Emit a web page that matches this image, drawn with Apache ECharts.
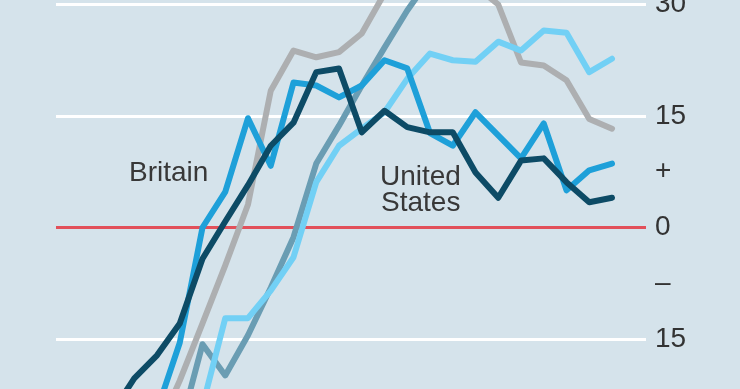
<!DOCTYPE html>
<html>
<head>
<meta charset="utf-8">
<script src="https://cdn.jsdelivr.net/npm/echarts@6/dist/echarts.min.js"></script>
<style>
html,body{margin:0;padding:0;background:#d5e3eb;}
#c{width:740px;height:389px;}
</style>
</head>
<body>
<div id="c"></div>
<script>
// categories (periods), left to right
var categories = ['0','1','2','3','4','5','6','7','8','9','10','11','12','13','14','15','16','17','18','19','20','21','22'];
// series values (% change); values beyond the crop are estimates
var navy   = [-25.0,-20.3,-17.2,-12.9,-4.2,0.8,5.7,11.0,14.1,20.9,21.4,12.8,15.7,13.5,12.8,12.8,7.4,4.0,9.0,9.3,6.1,3.4,4.0];
var bright = [null,null,-24.6,-15.5,0.0,4.8,14.7,8.3,19.5,19.1,17.5,19.1,22.5,21.4,12.7,11.0,15.5,12.4,9.3,14.0,5.0,7.7,8.6];
var grey   = [null,null,-27.5,-20.6,-12.9,-5.1,3.1,18.4,23.8,22.9,23.6,26.1,31.5,33.0,34.0,34.0,32.5,30.0,22.2,21.8,19.8,14.6,13.3];
var steel  = [null,null,null,-27.2,-15.7,-19.9,-14.5,-8.1,-1.3,8.6,13.7,19.1,24.2,29.2,33.5,null,null,null,null,null,null,null,null];
var sky    = [null,null,null,null,-24.0,-12.2,-12.2,-8.5,-4.0,6.1,11.0,13.3,15.5,20.0,23.4,22.5,22.3,25.0,23.8,26.5,26.2,20.9,22.7];
// y tick labels
var tickValues = [-22.5,-15,-7.5,0,7.5,15,22.5,30];
var tickLabels = ['','15','\u2013','0','+','15','','30'];
var labelBritain = 'Britain';
var labelUS = ['United','States'];

var chart = echarts.init(document.getElementById('c'), null, {renderer:'canvas'});
var FONT = '"Liberation Sans", Arial, sans-serif';
var lineColors = ['transparent','#ffffff','transparent','#e2505a','transparent','#ffffff','transparent','#ffffff'];

function mk(name, data, color, z){
  return {
    name:name, type:'line', xAxisIndex:1, yAxisIndex:1, data:data,
    symbol:'none', smooth:false, clip:false, z:z, animation:false,
    connectNulls:false,
    lineStyle:{color:color, width:6, cap:'round', join:'round'}
  };
}

var option = {
  backgroundColor:'#d5e3eb',
  animation:false,
  grid:[
    {left:56, right:94, top:4.5, height:390.25, outerBoundsMode:'none', containLabel:false},
    {left:111.5, right:128, top:4.5, height:390.25, outerBoundsMode:'none', containLabel:false}
  ],
  xAxis:[
    {gridIndex:0, type:'value', min:0, max:1, show:false},
    {gridIndex:1, type:'category', data:categories, boundaryGap:false, show:false}
  ],
  yAxis:[
    {gridIndex:0, type:'value', position:'right', min:-22.5, max:30, interval:7.5,
     axisLine:{show:false}, axisTick:{show:false},
     axisLabel:{show:true, margin:9, color:'#333333', fontFamily:FONT, fontSize:28,
       formatter:function(v){var i=tickValues.indexOf(v); return i>=0?tickLabels[i]:'';}},
     splitLine:{show:true, lineStyle:{color:lineColors, width:3}}
    },
    {gridIndex:1, type:'value', min:-22.5, max:30, interval:7.5, show:false, splitLine:{show:false}}
  ],
  graphic:[
    {type:'text', left:129, top:159, z:100, style:{text:labelBritain, font:'28px '+FONT, fill:'#383838'}},
    {type:'text', left:380, top:163, z:100, style:{text:labelUS[0], font:'28px '+FONT, fill:'#383838'}},
    {type:'text', left:381, top:189, z:100, style:{text:labelUS[1], font:'28px '+FONT, fill:'#383838'}}
  ],
  series:[
    mk('grey', grey, '#adafb1', 2),
    mk('steel', steel, '#6a9db3', 3),
    mk('sky', sky, '#72d0f5', 4),
    mk('bright', bright, '#1ea0d9', 5),
    mk('navy', navy, '#0d4b66', 6)
  ]
};
chart.setOption(option);
</script>
</body>
</html>
